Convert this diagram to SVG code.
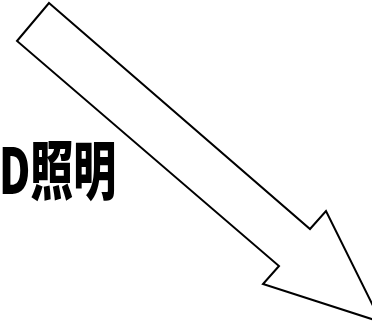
<svg xmlns="http://www.w3.org/2000/svg" width="372" height="324" viewBox="0 0 372 324">
<style>
.arrow{fill:#ffffff;stroke:#000000;stroke-width:2;stroke-linejoin:miter}
.lbl{font-family:"Noto Sans CJK JP","Liberation Sans",sans-serif;font-weight:900;font-size:43px;fill:#000000}
</style>
<rect width="372" height="324" fill="#ffffff"/>
<g id="arrow">
<polygon class="arrow" points="49,3 310,229 326,211 381,322 263,284 279,266 17,41"/>
</g>
<g id="label">
<text class="lbl" transform="translate(-1,194) scale(1,1.48)" x="0" y="0">D照明</text>
</g>
</svg>
